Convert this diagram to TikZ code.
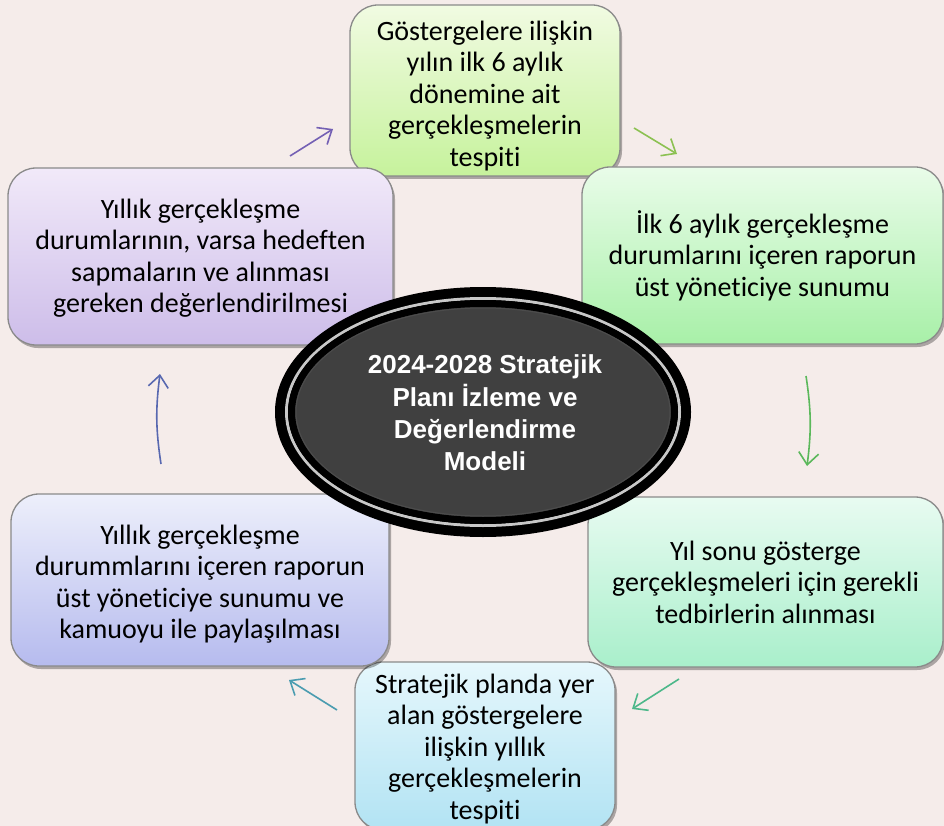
\documentclass[tikz,border=0pt]{standalone}
\usepackage{fontspec}
\setmainfont{Carlito}[Ligatures=NoCommon]
\newfontfamily\ellfont{Liberation Sans}
\usetikzlibrary{arrows.meta,shadows}
\definecolor{bg}{HTML}{F5ECEA}
\definecolor{boxborder}{HTML}{8A8A8A}
\definecolor{ttop}{HTML}{F1FBE2}\definecolor{tbot}{HTML}{C6F29C}
\definecolor{rutop}{HTML}{E9FCE9}\definecolor{rubot}{HTML}{A8F0A8}
\definecolor{rltop}{HTML}{E8FBF1}\definecolor{rlbot}{HTML}{A9EFCB}
\definecolor{btop}{HTML}{E6F7FC}\definecolor{bbot}{HTML}{B2E3F3}
\definecolor{lltop}{HTML}{EDEFFB}\definecolor{llbot}{HTML}{B6BBEE}
\definecolor{lutop}{HTML}{F1E9F9}\definecolor{lubot}{HTML}{CDBDE9}
\definecolor{ellfill}{HTML}{404040}
\definecolor{ringgray}{HTML}{C8C8C8}
\definecolor{a1}{HTML}{7460B4}
\definecolor{a2}{HTML}{8CC152}
\definecolor{a3}{HTML}{5BB85B}
\definecolor{a4}{HTML}{4DB88A}
\definecolor{a5}{HTML}{4A9CB0}
\definecolor{a6}{HTML}{5868B0}
\newcommand\dropfix[1]{\rule{0pt}{#1}}
\begin{document}
\begin{tikzpicture}[x=1pt,y=-1pt,
  box/.style={rounded corners=28pt, draw=boxborder, line width=1.3pt, align=center,
    font=\fontsize{28}{31.5}\selectfont, inner sep=0pt,
    drop shadow={shadow xshift=2pt,shadow yshift=-3pt,opacity=0.3,fill=black}},
  flow/.style={line width=1.6pt, -{Straight Barb[length=12pt,width=20pt,line width=1.6pt]}}]
\fill[bg] (0,0) rectangle (944,826);
\useasboundingbox (0,0) rectangle (944,826);

\node[box, top color=ttop, bottom color=tbot, minimum width=270pt, minimum height=171pt] (t) at (485,90.5)
  {\dropfix{30pt}Göstergelere ilişkin\\yılın ilk 6 aylık\\dönemine ait\\gerçekleşmelerin\\tespiti};
\node[box, top color=rutop, bottom color=rubot, minimum width=361pt, minimum height=177pt] (ru) at (762.5,255.5)
  {İlk 6 aylık gerçekleşme\\durumlarını içeren raporun\\üst yöneticiye sunumu};
\node[box, top color=rltop, bottom color=rlbot, minimum width=355pt, minimum height=170pt] (rl) at (765.5,582)
  {Yıl sonu gösterge\\gerçekleşmeleri için gerekli\\tedbirlerin alınması};
\node[box, top color=btop, bottom color=bbot, minimum width=260pt, minimum height=168pt] (b) at (485,746)
  {\dropfix{25pt}Stratejik planda yer\\alan göstergelere\\ilişkin yıllık\\gerçekleşmelerin\\tespiti};
\node[box, top color=lltop, bottom color=llbot, minimum width=378pt, minimum height=172pt] (ll) at (200,580)
  {\dropfix{28pt}Yıllık gerçekleşme\\durummlarını içeren raporun\\üst yöneticiye sunumu ve\\kamuoyu ile paylaşılması};
\node[box, top color=lutop, bottom color=lubot, minimum width=385pt, minimum height=177pt] (lu) at (200.5,256.5)
  {\dropfix{23pt}Yıllık gerçekleşme\\durumlarının, varsa hedeften\\sapmaların ve alınması\\gereken değerlendirilmesi};

% central ellipse
\coordinate (ec) at (483,412);
\fill[black] (ec) ellipse [x radius=208pt, y radius=125pt];
\draw[ringgray, line width=3pt] (ec) ellipse [x radius=196.5pt, y radius=113.5pt];
\filldraw[fill=ellfill, draw=black, line width=7pt] (ec) ellipse [x radius=191.5pt, y radius=108.5pt];
\draw[black!70, line width=1pt] (ec) ellipse [x radius=187pt, y radius=104pt];
\node[text=white, align=center, font=\ellfont\bfseries\fontsize{26}{32.3}\selectfont] (center) at (485,413)
  {2024-2028 Stratejik\\Planı İzleme ve\\Değerlendirme\\Modeli};

% arrows
\coordinate (s1) at (290,156); \coordinate (e1) at (333,129);
\coordinate (s2) at (634,128); \coordinate (e2) at (677,154);
\coordinate (s3) at (806,376); \coordinate (e3) at (807,466);
\coordinate (s4) at (679,679); \coordinate (e4) at (632,709);
\coordinate (s5) at (337,710); \coordinate (e5) at (289,680);
\coordinate (s6) at (161,464); \coordinate (e6) at (160,374);
\draw[flow, a1] (s1) -- (e1);
\draw[flow, a2] (s2) -- (e2);
\draw[flow, a3] (s3) to[bend left=8] (e3);
\draw[flow, a4] (s4) -- (e4);
\draw[flow, a5] (s5) -- (e5);
\draw[flow, a6] (s6) to[bend left=8] (e6);
\end{tikzpicture}
\end{document}
